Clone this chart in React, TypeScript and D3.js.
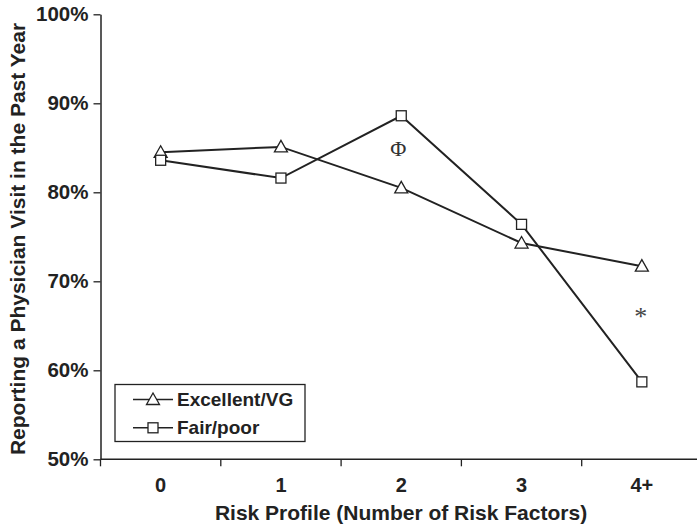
import React, { useEffect, useRef } from "react";
import * as d3 from "d3";

const categories = ["0", "1", "2", "3", "4+"];
const excellentVG = [84.5, 85.1, 80.5, 74.3, 71.7];
const fairPoor = [83.6, 81.6, 88.6, 76.4, 58.7];
const yTicks = [50, 60, 70, 80, 90, 100];
const seriesNames = ["Excellent/VG", "Fair/poor"];

const App = () => {
  const ref = useRef<SVGSVGElement>(null);

  useEffect(() => {
    const svg = d3.select(ref.current);
    svg.selectAll("*").remove();

    const width = 697;
    const height = 528;
    const font = "'Liberation Sans', Arial, sans-serif";
    const ink = "#222";

    const x = d3.scaleBand().domain(categories).range([100.5, 702]);
    const y = d3.scaleLinear().domain([50, 100]).range([459.3, 14.3]);

    svg.attr("width", width).attr("height", height);

    // Y axis
    const yAxis = svg
      .append("g")
      .attr("transform", "translate(100.5,0)")
      .call(
        d3
          .axisLeft(y)
          .tickValues(yTicks)
          .tickFormat(d => `${d}%`)
          .tickSize(7)
          .tickSizeOuter(0)
          .tickPadding(5)
      );
    yAxis.select(".domain").attr("stroke", ink).attr("stroke-width", 1.5);
    yAxis.selectAll("line").attr("stroke", ink).attr("stroke-width", 1.3);
    yAxis
      .selectAll("text")
      .attr("font-family", font)
      .attr("font-weight", "bold")
      .attr("font-size", "20.5px")
      .attr("fill", ink);

    // X axis line, ticks at band boundaries, labels at centres
    const xg = svg.append("g");
    xg.append("line")
      .attr("x1", 100.5)
      .attr("x2", width)
      .attr("y1", y(50))
      .attr("y2", y(50))
      .attr("stroke", ink)
      .attr("stroke-width", 1.5);
    xg.selectAll(".tick")
      .data(categories)
      .enter()
      .append("line")
      .attr("x1", d => x(d)!)
      .attr("x2", d => x(d)!)
      .attr("y1", y(50))
      .attr("y2", y(50) + 7)
      .attr("stroke", ink)
      .attr("stroke-width", 1.3);
    xg.selectAll(".lbl")
      .data(categories)
      .enter()
      .append("text")
      .attr("x", d => x(d)! + x.bandwidth() / 2)
      .attr("y", 492)
      .attr("text-anchor", "middle")
      .attr("font-family", font)
      .attr("font-weight", "bold")
      .attr("font-size", "20px")
      .attr("fill", ink)
      .text(d => d);

    // Lines and markers
    const cx = (i: number) => x(categories[i])! + x.bandwidth() / 2;
    const line = d3
      .line<number>()
      .x((_, i) => cx(i))
      .y(d => y(d));

    [excellentVG, fairPoor].forEach(vals => {
      svg
        .append("path")
        .datum(vals)
        .attr("d", line)
        .attr("fill", "none")
        .attr("stroke", ink)
        .attr("stroke-width", 2);
    });

    const triangle = (px: number, py: number) =>
      `M${px},${py - 6.5}L${px + 6.5},${py + 5}L${px - 6.5},${py + 5}Z`;

    svg
      .selectAll(".tri")
      .data(excellentVG)
      .enter()
      .append("path")
      .attr("d", (d, i) => triangle(cx(i), y(d)))
      .attr("fill", "white")
      .attr("stroke", ink)
      .attr("stroke-width", 1.3);

    svg
      .selectAll(".sq")
      .data(fairPoor)
      .enter()
      .append("rect")
      .attr("x", (d, i) => cx(i) - 5)
      .attr("y", d => y(d) - 5)
      .attr("width", 10)
      .attr("height", 10)
      .attr("fill", "white")
      .attr("stroke", ink)
      .attr("stroke-width", 1.3);

    // Significance markers
    svg
      .append("text")
      .attr("x", cx(2) - 3)
      .attr("y", 156)
      .attr("text-anchor", "middle")
      .attr("font-family", "'Liberation Serif', 'DejaVu Serif', serif")
      .attr("font-size", "22px")
      .attr("fill", "#333")
      .text("Φ");
    svg
      .append("text")
      .attr("x", cx(4) - 1)
      .attr("y", 325)
      .attr("text-anchor", "middle")
      .attr("font-family", "'Liberation Serif', 'DejaVu Serif', serif")
      .attr("font-size", "26px")
      .attr("fill", "#444")
      .text("*");

    // Legend
    const lg = svg.append("g");
    lg.append("rect")
      .attr("x", 115)
      .attr("y", 384.5)
      .attr("width", 190)
      .attr("height", 57)
      .attr("fill", "white")
      .attr("stroke", ink)
      .attr("stroke-width", 1.3);
    seriesNames.forEach((name, i) => {
      const ly = 399.5 + i * 28.3;
      lg.append("line")
        .attr("x1", 133)
        .attr("x2", 173)
        .attr("y1", ly)
        .attr("y2", ly)
        .attr("stroke", ink)
        .attr("stroke-width", 1.5);
      if (i === 0) {
        lg.append("path")
          .attr("d", triangle(153, ly))
          .attr("fill", "white")
          .attr("stroke", ink)
          .attr("stroke-width", 1.3);
      } else {
        lg.append("rect")
          .attr("x", 148)
          .attr("y", ly - 5)
          .attr("width", 10)
          .attr("height", 10)
          .attr("fill", "white")
          .attr("stroke", ink)
          .attr("stroke-width", 1.3);
      }
      lg.append("text")
        .attr("x", 177)
        .attr("y", ly + 6.5)
        .attr("font-family", font)
        .attr("font-weight", "bold")
        .attr("font-size", "19px")
        .attr("fill", ink)
        .text(name);
    });

    // Axis titles
    svg
      .append("text")
      .attr("x", 401)
      .attr("y", 520)
      .attr("text-anchor", "middle")
      .attr("font-family", font)
      .attr("font-weight", "bold")
      .attr("font-size", "21px")
      .attr("fill", ink)
      .text("Risk Profile (Number of Risk Factors)");

    svg
      .append("text")
      .attr("transform", "rotate(-90)")
      .attr("x", -239)
      .attr("y", 25)
      .attr("text-anchor", "middle")
      .attr("font-family", font)
      .attr("font-weight", "bold")
      .attr("font-size", "21px")
      .attr("fill", ink)
      .text("Reporting a Physician Visit in the Past Year");
  }, []);

  return (
    <svg
      ref={ref}
      style={{ position: "absolute", left: 0, top: 0, background: "white" }}
    ></svg>
  );
};

export default App;
